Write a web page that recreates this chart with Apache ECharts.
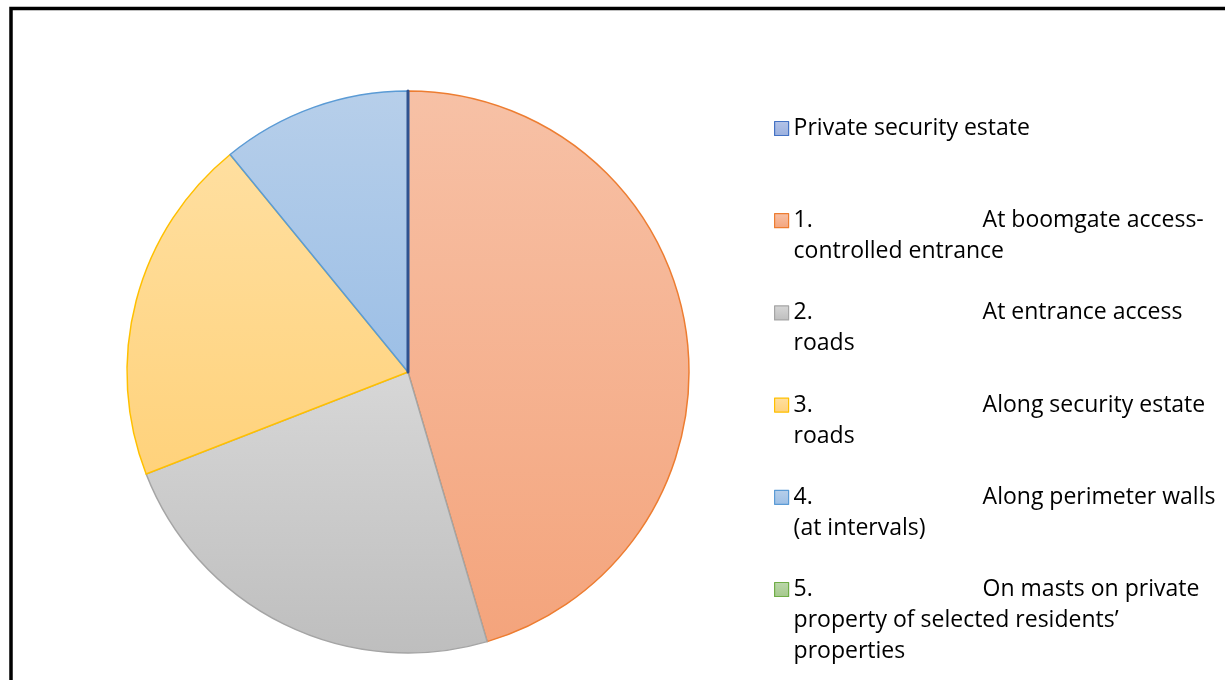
<!DOCTYPE html>
<html>
<head>
<meta charset="utf-8">
<script src="https://cdn.jsdelivr.net/npm/echarts@6/dist/echarts.min.js"></script>
<style>
  html, body { margin: 0; padding: 0; background: #fff; }
  #chart { width: 1225px; height: 680px; }
</style>
</head>
<body>
<div id="chart"></div>
<script>
// Camera placement within the estate: share of responses per location
const categories = [
  'Private security estate',
  '1. At boomgate access-controlled entrance',
  '2. At entrance access roads',
  '3. Along security estate roads',
  '4. Along perimeter walls (at intervals)',
  '5. On masts on private property of selected residents’ properties'
];
const values = [0, 25, 13, 11, 6, 0];

// Legend wording, split the way it wraps beside the pie
const legendNumbers = ['', '1.', '2.', '3.', '4.', '5.'];
const legendLines = [
  ['Private security estate'],
  ['At boomgate access-', 'controlled entrance'],
  ['At entrance access', 'roads'],
  ['Along security estate', 'roads'],
  ['Along perimeter walls', '(at intervals)'],
  ['On masts on private', 'property of selected residents’', 'properties']
];

// Office-style palette: light gradient fill with a darker outline
const fillTop    = ['#B4C3E7', '#F7C1A6', '#D7D7D7', '#FFDFA0', '#B7CFEA', '#BCD7AB'];
const fillBottom = ['#9AB0DF', '#F4A47C', '#BEBEBE', '#FFD27B', '#9CBFE6', '#A4C98B'];
const outline    = ['#2F528F', '#ED7D31', '#A5A5A5', '#FFC000', '#5B9BD5', '#70AD47'];
const legendOutline = ['#4472C4', '#ED7D31', '#A5A5A5', '#FFC000', '#5B9BD5', '#70AD47'];

const FONT = '"Open Sans"';
const FONT_SIZE = 23;
const LINE_H = 31;

function grad(i) {
  return new echarts.graphic.LinearGradient(0, 0, 0, 1, [
    { offset: 0, color: fillTop[i] },
    { offset: 1, color: fillBottom[i] }
  ]);
}

// Slices go clockwise from 12 o'clock; the first (empty) category is drawn
// last so its outline sits on top of the neighbouring slice edges.
const drawOrder = [1, 2, 3, 4, 5, 0];
const pieData = drawOrder.map(i => ({
  name: categories[i],
  value: values[i],
  itemStyle: {
    color: grad(i),
    borderColor: outline[i],
    borderWidth: i === 0 ? 3 : 1.5
  }
}));

function legendText(i) {
  const lines = legendLines[i];
  const pad = '\n'.repeat(lines.length - 1);
  const first = (legendNumbers[i] ? '{n|' + legendNumbers[i] + '}' : '') + '{t|' + lines[0] + '}';
  const rest = lines.slice(1).map(l => '{t|' + l + '}');
  return pad + [first].concat(rest).join('\n');
}

const richStyle = {
  n: { fontFamily: FONT, fontSize: FONT_SIZE, lineHeight: LINE_H, color: '#000', width: 189 },
  t: { fontFamily: FONT, fontSize: FONT_SIZE, lineHeight: LINE_H, color: '#000' }
};

const legends = categories.map((name, i) => {
  const n = legendLines[i].length;
  const firstLineY = 128.5 + 92.2 * i;
  return {
    orient: 'vertical',
    left: 774,
    top: firstLineY - (2 * n - 1) * LINE_H / 2,
    padding: 0,
    icon: 'rect',
    itemWidth: 14,
    itemHeight: 14,
    selectedMode: false,
    data: [name],
    itemStyle: { borderWidth: 1.2, borderColor: legendOutline[i] },
    formatter: () => legendText(i),
    textStyle: {
      fontFamily: FONT,
      fontSize: FONT_SIZE,
      lineHeight: LINE_H,
      color: '#000',
      rich: richStyle
    }
  };
});

const chart = echarts.init(document.getElementById('chart'), null, { renderer: 'canvas' });
chart.setOption({
  animation: false,
  backgroundColor: '#fff',
  legend: legends,
  graphic: [
    {
      type: 'polyline',
      shape: { points: [[11, 680], [11, 8.5], [1225, 8.5]] },
      style: { stroke: '#000', lineWidth: 3.5, fill: null }
    }
  ],
  series: [{
    type: 'pie',
    center: [408, 372],
    radius: 281,
    startAngle: 90,
    clockwise: true,
    silent: true,
    label: { show: false },
    labelLine: { show: false },
    emphasis: { disabled: true },
    data: pieData
  }]
});
</script>
</body>
</html>
